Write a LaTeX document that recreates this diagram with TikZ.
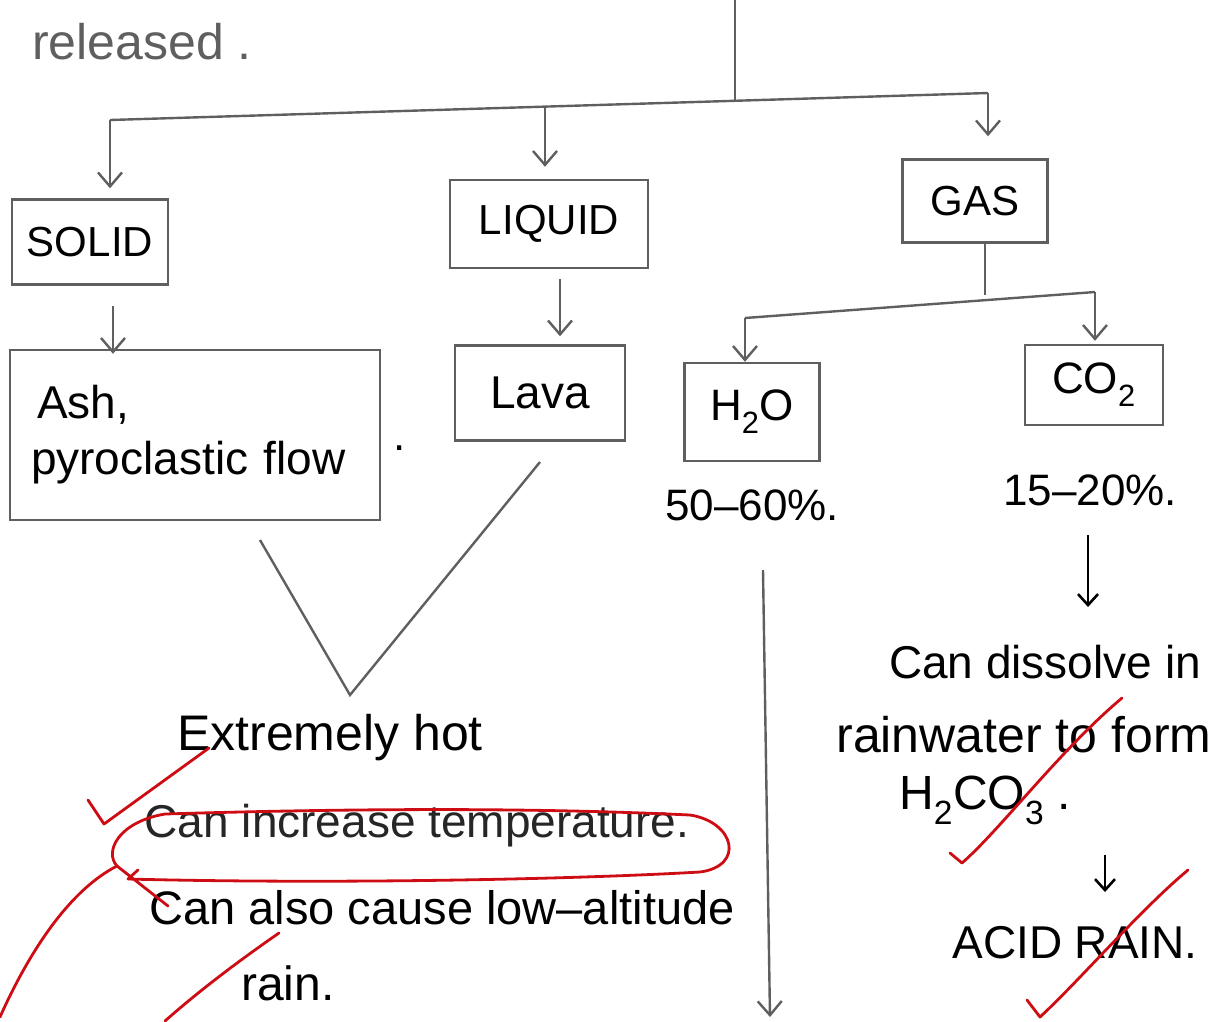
\documentclass[tikz,border=0pt]{standalone}
\usepackage{fontspec}
\setmainfont{Liberation Sans}
\usetikzlibrary{arrows.meta}
\definecolor{penred}{RGB}{205,12,20}
\definecolor{pengray}{RGB}{95,95,95}
\tikzset{
  box/.style={draw=pengray, line width=2.4pt, rectangle, inner sep=0pt, font=\fontsize{42}{48}\selectfont},
  lbl/.style={inner sep=0pt, font=\fontsize{44}{50}\selectfont},
  line/.style={draw=pengray, line width=2.4pt},
  arr/.style={line, -{Straight Barb[length=14pt,width=24pt,line width=2.4pt]}},
  sarr/.style={draw=black, line width=2.6pt, -{Straight Barb[length=11pt,width=20pt,line width=2.6pt]}},
  redpen/.style={draw=penred, line width=2.8pt, line cap=round, line join=round},
}
\begin{document}
\begin{tikzpicture}[x=1pt,y=-1pt]
\useasboundingbox (0,0) rectangle (1218,1021);
% top text
\node[lbl, text=pengray, font=\fontsize{50}{56}\selectfont] (rel) at (142,42) {released .};
% tree junctions
\coordinate (top) at (735,0);
\coordinate (hub) at (735,101);
\coordinate (hl) at (110,120);
\coordinate (hm) at (545,107);
\coordinate (hr) at (988,93);
% boxes
\node[box, minimum width=156, minimum height=85] (solid) at (90,242) {SOLID};
\node[box, minimum width=198, minimum height=88] (liquid) at (549,224) {LIQUID};
\node[box, minimum width=145, minimum height=83] (gas) at (975,201) {GAS};
\node[box, minimum width=370, minimum height=170, align=left, text width=340pt, font=\fontsize{46}{52}\selectfont] (ash) at (195,435) {\hspace*{12pt}Ash,\\[4pt]\hspace*{6pt}pyroclastic flow};
\node[lbl] (ashdot) at (400,448) {.};
\node[box, minimum width=170, minimum height=95, font=\fontsize{46}{50}\selectfont] (lava) at (540,393) {Lava};
\node[box, minimum width=135, minimum height=98, font=\fontsize{44}{50}\selectfont] (h2o) at (752,412) {H\textsubscript{2}O};
\node[box, minimum width=138, minimum height=80, font=\fontsize{44}{50}\selectfont] (co2) at (1094,385) {CO\textsubscript{2}};
% tree lines
\draw[line] (top) -- (hub);
\draw[line] (hl) -- (hr);
\draw[arr, shorten >=10pt] (hl) -- (hl |- solid.north);
\draw[arr, shorten >=12pt] (hm) -- (hm |- liquid.north);
\draw[arr, shorten >=22pt] (hr) -- (hr |- gas.north);
% solid -> ash, liquid -> lava
\draw[arr, shorten <=20pt, shorten >=-5pt] (113,0 |- solid.south) -- (113,0 |- ash.north);
\draw[arr, shorten <=10pt, shorten >=8pt] (560,0 |- liquid.south) -- (560,0 |- lava.north);
% gas sub-tree
\coordinate (gj) at (985,295);
\coordinate (gl) at (745,318);
\coordinate (gr) at (1095,292);
\draw[line] (985,0 |- gas.south) -- (gj);
\draw[line] (gl) -- (gr);
\draw[arr] (gl) -- (gl |- h2o.north);
\draw[arr, shorten >=3pt] (gr) -- (gr |- co2.north);
% percentages
\node[lbl] (p1) at (752,505) {50–60\%.};
\node[lbl] (p2) at (1090,490) {15–20\%.};
% long arrow from H2O
\coordinate (la1) at (763,570);
\coordinate (la2) at (770,1017);
\draw[arr] (la1) -- (la2);
% V lines
\coordinate (va) at (260,540);
\coordinate (vb) at (350,695);
\coordinate (vc) at (540,462);
\draw[line] (va) -- (vb) -- (vc);
% left texts
\node[lbl, font=\fontsize{50}{56}\selectfont] (hot) at (330,738) {Extremely hot};
\node[lbl, text=black!85, font=\fontsize{46}{52}\selectfont] (incr) at (417,826) {Can increase temperature.};
\node[lbl, font=\fontsize{47}{53}\selectfont] (also) at (442,908) {Can also cause low–altitude};
\node[lbl, font=\fontsize{48}{54}\selectfont] (rain) at (288,983) {rain.};
% right texts
\coordinate (ca1) at (1088,535);
\coordinate (ca2) at (1088,607);
\draw[sarr] (ca1) -- (ca2);
\node[lbl, font=\fontsize{46}{52}\selectfont] (diss) at (1045,662) {Can dissolve in};
\node[lbl, font=\fontsize{50}{56}\selectfont] (rw) at (1024,735) {rainwater to form};
\node[lbl, font=\fontsize{48}{54}\selectfont] (h2co3) at (985,800) {H\textsubscript{2}CO\textsubscript{3} .};
\coordinate (ar1) at (1105,855);
\coordinate (ar2) at (1105,892);
\draw[sarr] (ar1) -- (ar2);
\node[lbl, font=\fontsize{46}{52}\selectfont] (acid) at (1075,943) {ACID RAIN.};
% red marks
\draw[redpen] (88,800) -- (104,824) -- (209,748);
\draw[redpen] (128,879) .. controls (320,884) and (560,880) .. (700,872)
  .. controls (745,866) and (735,822) .. (690,815)
  .. controls (500,806) and (300,810) .. (165,814)
  .. controls (118,822) and (104,852) .. (117,866) -- (168,906);
\draw[redpen] (128,879) -- (138,870);
\draw[redpen] (0,1017) .. controls (30,950) and (70,890) .. (117,866);
\draw[redpen] (165,1021) .. controls (200,990) and (240,960) .. (279,933);
\draw[redpen] (950,853) -- (962,863) .. controls (1000,830) and (1060,750) .. (1122,698);
\draw[redpen] (1027,1000) -- (1040,1017) .. controls (1080,980) and (1140,910) .. (1188,870);
\end{tikzpicture}
\end{document}
